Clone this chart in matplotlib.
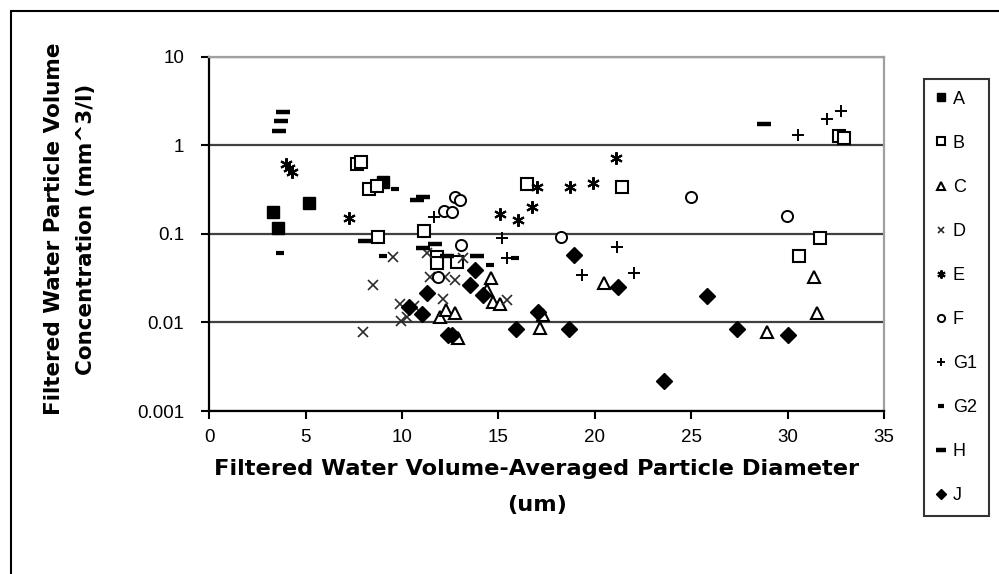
import matplotlib
matplotlib.use('Agg')
import matplotlib.pyplot as plt
from matplotlib.patches import Rectangle
from matplotlib.ticker import FixedLocator, FixedFormatter, NullLocator

plt.rcParams['font.family'] = ['Liberation Sans', 'DejaVu Sans']

# ---------------- data ----------------
series_names = ['A', 'B', 'C', 'D', 'E', 'F', 'G1', 'G2', 'H', 'J']

A_x = [3.29, 3.58, 5.19, 8.99]
A_y = [0.177, 0.115, 0.221, 0.387]

B_x = [7.64, 7.85, 8.30, 8.68, 8.77, 11.14, 11.79, 11.79, 12.83, 16.46, 21.39, 30.6, 31.68, 32.68, 32.92]
B_y = [0.61, 0.65, 0.318, 0.349, 0.0927, 0.108, 0.055, 0.0465, 0.0484, 0.365, 0.335, 0.0566, 0.0904, 1.27, 1.2]

C_x = [14.6, 14.39, 14.73, 15.08, 11.97, 12.28, 12.74, 12.92, 17.33, 17.13, 20.47, 28.94, 31.38, 31.55]
C_y = [0.032, 0.0232, 0.0171, 0.0163, 0.0116, 0.0138, 0.0126, 0.0066, 0.0121, 0.00858, 0.0276, 0.00785, 0.0323, 0.0127]

D_x = [9.55, 11.27, 13.18, 8.47, 11.45, 12.22, 12.74, 9.89, 10.24, 9.93, 12.14, 15.42, 7.96, 10.6]
D_y = [0.054, 0.06, 0.0527, 0.0264, 0.0328, 0.0328, 0.0301, 0.0163, 0.0116, 0.0103, 0.0183, 0.018, 0.0077, 0.0155]

E_x = [4.0, 4.15, 4.3, 7.26, 15.08, 16.03, 16.72, 17.01, 18.71, 19.92, 21.1]
E_y = [0.62, 0.55, 0.5, 0.15, 0.167, 0.143, 0.202, 0.34, 0.34, 0.377, 0.71]

F_x = [12.17, 12.57, 12.74, 13.0, 13.04, 11.88, 18.23, 24.97, 29.98]
F_y = [0.18, 0.177, 0.262, 0.24, 0.074, 0.0328, 0.0914, 0.258, 0.16]

G1_x = [11.65, 15.17, 15.42, 21.16, 19.31, 22.03, 30.55, 32.02, 32.75]
G1_y = [0.156, 0.0888, 0.0527, 0.0715, 0.0343, 0.0364, 1.30, 1.98, 2.45]

G2_x = [3.67, 9.63, 8.99, 15.86, 14.56]
G2_y = [0.06, 0.318, 0.0566, 0.0537, 0.0443]

H_x = [3.84, 3.72, 3.63, 10.76, 11.1, 8.08, 11.1, 11.7, 12.31, 13.87, 28.77]
H_y = [2.39, 1.89, 1.46, 0.24, 0.26, 0.083, 0.0697, 0.0763, 0.0566, 0.0566, 1.73]

J_x = [13.78, 13.52, 11.27, 10.38, 11.02, 14.22, 12.4, 12.57, 15.91, 17.07, 18.92, 21.22, 18.67, 23.58, 25.8, 27.36, 30.03]
J_y = [0.039, 0.0264, 0.0212, 0.0151, 0.0123, 0.0203, 0.0072, 0.0072, 0.0084, 0.0132, 0.0576, 0.0249, 0.00836, 0.00218, 0.02, 0.0084, 0.0072]

x_ticks = [0, 5, 10, 15, 20, 25, 30, 35]
y_ticks = [0.001, 0.01, 0.1, 1, 10]
y_tick_labels = ['0.001', '0.01', '0.1', '1', '10']

x_label_1 = 'Filtered Water Volume-Averaged Particle Diameter'
x_label_2 = '(um)'
y_label_1 = 'Filtered Water Particle Volume'
y_label_2 = 'Concentration (mm^3/l)'

xs = [A_x, B_x, C_x, D_x, E_x, F_x, G1_x, G2_x, H_x, J_x]
ys = [A_y, B_y, C_y, D_y, E_y, F_y, G1_y, G2_y, H_y, J_y]

styles = {
    'A':  dict(marker='s', ms=8.5, mfc='black', mec='black', mew=1.0),
    'B':  dict(marker='s', ms=8.0, mfc='white', mec='black', mew=1.5),
    'C':  dict(marker='^', ms=9.0, mfc='white', mec='black', mew=1.5),
    'D':  dict(marker='x', ms=7.5, mfc='none', mec='#2a2a2a', mew=1.2),
    'E':  dict(marker=(6, 2, 0), ms=9.0, mfc='none', mec='black', mew=1.5),
    'F':  dict(marker='o', ms=8.0, mfc='white', mec='black', mew=1.4),
    'G1': dict(marker='+', ms=8.0, mfc='none', mec='black', mew=1.4),
    'G2': dict(marker='_', ms=6.0, mfc='none', mec='black', mew=3.0),
    'H':  dict(marker='_', ms=10.0, mfc='none', mec='black', mew=3.2),
    'J':  dict(marker='D', ms=8.0, mfc='black', mec='black', mew=1.0),
}

W, Hh = 999, 574
fig = plt.figure(figsize=(W / 100, Hh / 100), dpi=100)
fig.patch.set_facecolor('white')

# outer chart border
fig.add_artist(Rectangle((10.5 / W, -0.2), 1.5, 1.2 - 11.5 / Hh,
                         transform=fig.transFigure, fill=False,
                         edgecolor='black', lw=1.5))

L, R, T, B = 209.3, 884, 56.5, 411
ax = fig.add_axes([L / W, 1 - B / Hh, (R - L) / W, (B - T) / Hh])
ax.set_yscale('log')
ax.set_xlim(0, 35)
ax.set_ylim(0.001, 10)

handles = []
for name, x, y in zip(series_names, xs, ys):
    h, = ax.plot(x, y, linestyle='none', label=name, clip_on=False, **styles[name])
    handles.append(h)

ax.xaxis.set_major_locator(FixedLocator(x_ticks))
ax.yaxis.set_major_locator(FixedLocator(y_ticks))
ax.yaxis.set_major_formatter(FixedFormatter(y_tick_labels))
ax.yaxis.set_minor_locator(NullLocator())
ax.xaxis.set_minor_locator(NullLocator())

ax.tick_params(axis='both', direction='out', length=6, width=1.5, color='black',
               labelsize=13.5)
ax.tick_params(axis='y', pad=12)
ax.tick_params(axis='x', pad=7)

ax.grid(True, axis='y', color='#404040', lw=1.6)
ax.set_axisbelow(True)
for s in ['left', 'bottom']:
    ax.spines[s].set_color('black')
    ax.spines[s].set_linewidth(1.6)
for s in ['top', 'right']:
    ax.spines[s].set_color('#a0a0a0')
    ax.spines[s].set_linewidth(1.6)

# axis titles
tfont = dict(family=['DejaVu Sans'], fontweight='bold')
fig.text(537 / W, 1 - 469 / Hh, x_label_1, ha='center', va='center', fontsize=16.2, **tfont)
fig.text(537 / W, 1 - 505 / Hh, x_label_2, ha='center', va='center', fontsize=16.2, **tfont)
fig.text(54 / W, 1 - 229 / Hh, y_label_1, ha='center', va='center', rotation=90,
         fontsize=15.5, **tfont)
fig.text(86 / W, 1 - 229 / Hh, y_label_2, ha='center', va='center', rotation=90,
         fontsize=15.5, **tfont)

leg = ax.legend(handles=handles, loc='upper left',
                bbox_to_anchor=(924 / W, 1 - 79 / Hh), bbox_transform=fig.transFigure,
                frameon=True, fancybox=False, edgecolor='black',
                prop=dict(family=['Liberation Sans'], size=13),
                borderaxespad=0, borderpad=0.65, handlelength=0.6,
                handletextpad=0.35, labelspacing=1.5, markerscale=0.65)
leg.get_frame().set_linewidth(1.5)

fig.savefig('out.png', dpi=100)
